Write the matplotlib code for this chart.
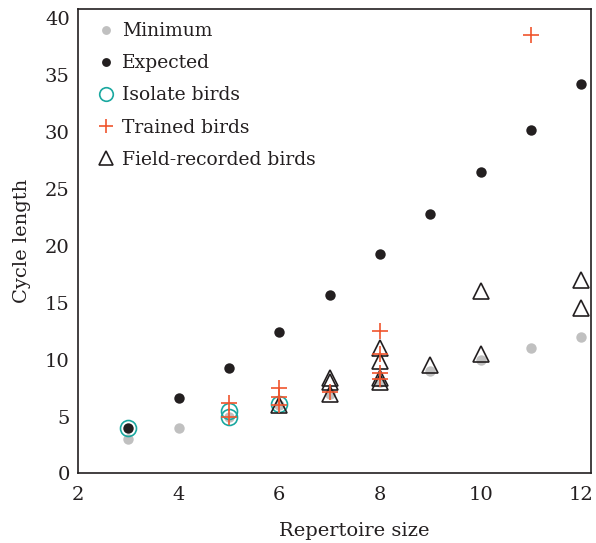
import matplotlib
matplotlib.use("Agg")
import matplotlib.pyplot as plt

plt.rcParams['font.family'] = ['DejaVu Serif']

min_x = [3, 4, 5, 6, 7, 8, 9, 10, 11, 12]
min_y = [3, 4, 5, 6, 7, 8, 9, 10, 11, 12]

exp_x = [3, 4, 5, 6, 7, 8, 9, 10, 11, 12]
exp_y = [4.0, 6.6, 9.3, 12.4, 15.7, 19.3, 22.8, 26.5, 30.2, 34.2]

iso_x = [3, 5, 5, 6]
iso_y = [4.0, 5.5, 5.0, 6.1]

tr_x = [5, 5, 6, 6, 6, 7, 8, 8, 8, 8, 11]
tr_y = [6.2, 5.0, 7.5, 6.7, 6.0, 7.2, 12.5, 10.5, 8.8, 8.3, 38.5]

fr_x = [6, 7, 7, 7, 8, 8, 8, 8, 9, 10, 10, 12, 12]
fr_y = [6.0, 8.4, 8.0, 7.0, 11.0, 9.9, 8.4, 8.0, 9.5, 16.0, 10.5, 17.0, 14.5]

fig = plt.figure(figsize=(5.96, 5.43), dpi=100)
ax = fig.add_axes([0.131, 0.128, 0.861, 0.855])

ax.plot(min_x, min_y, 'o', color='#c0c0c0', ms=7.5, mec='none', label='Minimum', zorder=2)
ax.plot(exp_x, exp_y, 'o', color='#231f20', ms=7.5, mec='none', label='Expected', zorder=3)
ax.plot(iso_x, iso_y, 'o', mfc='none', mec='#1aa8a0', mew=1.2, ms=11.5, label='Isolate birds', zorder=4)
ax.plot(tr_x, tr_y, '+', color='#f0552d', mew=1.2, ms=12, label='Trained birds', zorder=5)
ax.plot(fr_x, fr_y, '^', mfc='none', mec='#231f20', mew=1.2, ms=12, label='Field-recorded birds', zorder=4)

ax.set_xlim(2, 12.2)
ax.set_ylim(0, 40.8)
ax.set_xticks([2, 4, 6, 8, 10, 12])
ax.set_yticks([0, 5, 10, 15, 20, 25, 30, 35, 40])
ax.tick_params(length=0, labelsize=14, colors='#231f20', pad=6)
ax.tick_params(axis='x', pad=9)
for s in ax.spines.values():
    s.set_linewidth(1.2)
    s.set_color('#231f20')

ax.set_xlabel('Repertoire size', fontsize=14, color='#231f20')
ax.xaxis.set_label_coords(0.538, -0.105)
ax.set_ylabel('Cycle length', fontsize=14, color='#231f20', labelpad=10)

leg = ax.legend(loc='upper left', frameon=False, fontsize=13.5, handletextpad=0.05,
                handlelength=1.6, borderaxespad=0.3, labelspacing=0.75, markerscale=0.85)
for t in leg.get_texts():
    t.set_color('#231f20')

fig.savefig('out.png', dpi=100)
